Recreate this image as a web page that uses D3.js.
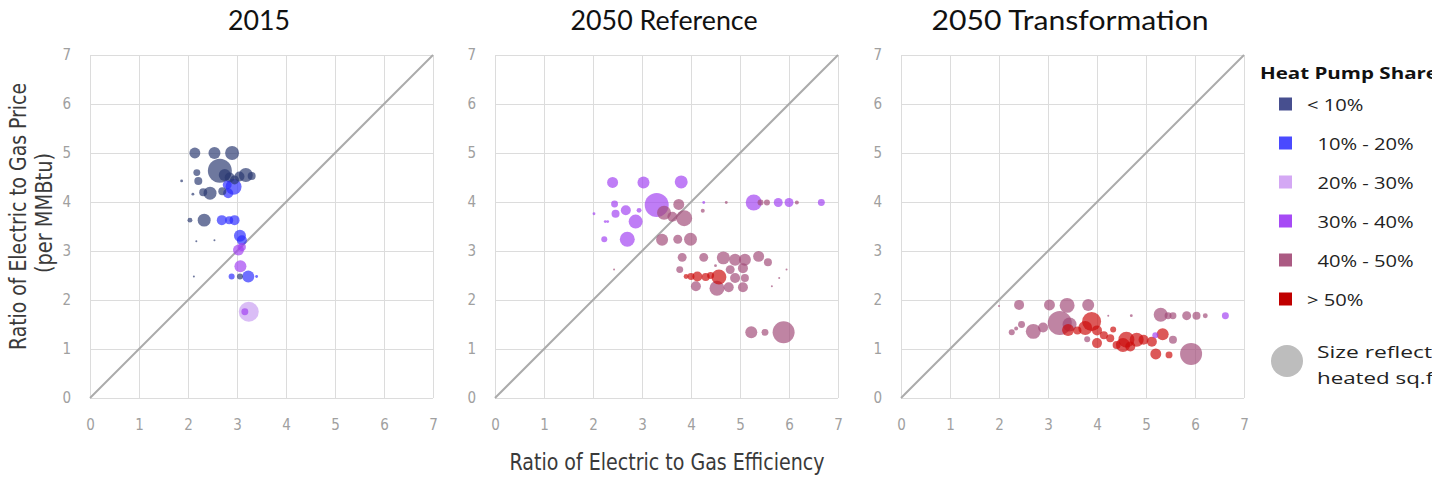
<!DOCTYPE html>
<html><head><meta charset="utf-8">
<script src="https://cdn.jsdelivr.net/npm/d3@7"></script>
<style>body{margin:0;background:#fff}svg{display:block}</style>
</head><body><svg id="c" width="1432" height="480"></svg>
<script>
// ---------- DATA ----------
const panelTitles = ["2015", "2050 Reference", "2050 Transformation"];
const tickValues = [0, 1, 2, 3, 4, 5, 6, 7];
const categoryLabels = ["< 10%", "  10% - 20%", "  20% - 30%", "  30% - 40%", "  40% - 50%", "> 50%"];
const categoryColors = ["#2a3870", "#2b2bff", "#c89ef2", "#a13ff2", "#a04a78", "#cc0a0a"];
const legendColors = ["#474f8f", "#4a4aff", "#d4a8f4", "#a64af5", "#ab5a83", "#c00000"];

// 2015: efficiency ratio (x), price ratio (y), heated sq.ft (relative), heat-pump-share category
const x2015 = [2.14,2.54,2.90,2.65,2.18,2.21,1.87,2.75,2.85,2.95,3.18,3.30,3.05,2.93,2.80,2.45,2.31,2.10,2.82,2.70,2.04,2.33,2.69,2.84,2.95,3.06,3.10,3.03,3.10,3.07,3.23,2.89,3.06,3.40,2.12,2.17,2.54,3.24,3.16];
const y2015 = [5.00,5.00,5.00,4.64,4.60,4.43,4.43,4.55,4.50,4.45,4.55,4.53,4.52,4.31,4.35,4.18,4.20,4.16,4.18,4.22,3.63,3.63,3.63,3.63,3.63,3.31,3.22,3.02,3.08,2.69,2.48,2.48,2.48,2.48,2.48,3.20,3.22,1.76,1.76];
const s2015 = [30,36,49,144,12,16,2,36,25,20,49,16,25,64,20,42,16,2,25,16,6,42,25,16,25,36,25,30,16,36,36,9,9,2,1,1,1,100,12];
const c2015 = [0,0,0,0,0,0,0,0,0,0,0,0,0,1,1,0,0,0,1,0,0,0,1,1,1,1,1,3,3,3,1,1,0,1,0,0,0,2,3];

const xRef = [2.40,3.03,3.80,3.30,2.44,2.46,2.67,2.94,2.87,2.70,2.23,2.02,2.25,2.30,3.75,3.45,3.86,3.62,3.41,3.73,3.99,4.24,4.26,4.72,5.28,5.42,5.55,5.78,6.00,6.16,6.66,3.82,4.26,4.66,4.90,5.10,5.38,5.57,3.77,4.80,5.06,5.10,4.90,4.10,4.53,4.77,5.06,4.00,4.13,4.30,4.57,3.90,4.40,5.23,5.51,5.89,2.43,5.95,5.80,5.65,4.50];
const yRef = [4.40,4.40,4.41,3.94,3.96,3.76,3.83,3.83,3.60,3.24,3.24,3.76,3.60,3.60,3.95,3.78,3.67,3.70,3.23,3.24,3.24,3.82,3.99,3.99,3.99,3.99,3.99,3.99,3.99,3.99,3.99,2.87,2.87,2.86,2.82,2.82,2.89,2.77,2.62,2.62,2.65,2.45,2.45,2.28,2.24,2.26,2.26,2.48,2.48,2.47,2.47,2.48,2.50,1.34,1.34,1.34,2.62,2.62,2.45,2.28,2.70];
const sRef = [30,36,42,144,12,16,25,6,49,56,9,2,2,2,30,49,64,25,36,20,42,4,2,2,64,9,9,20,20,4,12,20,20,42,36,36,30,16,12,20,25,16,25,25,56,25,25,12,25,16,56,6,12,36,12,121,1,1,1,1,2];
const cRef = [3,3,3,3,3,3,3,3,3,3,3,3,3,3,4,4,4,4,4,4,4,4,3,4,3,4,4,3,3,4,3,4,4,4,4,4,4,4,4,4,4,4,4,4,4,4,4,5,5,5,5,5,5,4,4,4,4,4,4,4,4];

const xTr = [2.41,3.03,3.39,3.82,3.24,3.44,2.70,2.90,2.46,2.26,2.35,3.41,3.89,3.76,4.00,4.14,4.00,4.27,4.40,4.60,4.53,4.81,4.95,5.12,5.19,5.20,5.47,5.34,5.55,5.92,5.30,5.45,5.55,5.83,6.03,6.21,6.62,4.70,4.23,2.00,3.80,4.33,4.68,3.60];
const yTr = [1.90,1.90,1.89,1.90,1.53,1.50,1.36,1.44,1.50,1.34,1.42,1.39,1.56,1.43,1.38,1.28,1.12,1.22,1.08,1.19,1.08,1.19,1.19,1.15,1.28,0.90,0.88,1.30,1.19,0.90,1.70,1.68,1.68,1.68,1.68,1.68,1.68,1.68,1.68,1.88,1.20,1.40,1.05,1.38];
const sTr = [25,30,56,36,144,49,56,25,12,9,4,36,90,49,25,16,25,16,16,64,49,49,25,25,9,30,12,36,16,121,49,12,12,20,16,6,12,2,1,1,9,9,25,16];
const cTr = [4,4,4,4,4,4,4,4,4,4,4,5,5,5,5,5,5,5,5,5,5,5,5,5,3,5,5,5,4,4,4,4,4,4,4,4,3,4,4,4,4,5,5,5];

const panelsX = [x2015, xRef, xTr];
const panelsY = [y2015, yRef, yTr];
const panelsS = [s2015, sRef, sTr];
const panelsC = [c2015, cRef, cTr];

// ---------- DRAW ----------
const svg = d3.select("#c");
svg.append("rect").attr("width", 1432).attr("height", 480).attr("fill", "#fff");
const narrow = "'Liberation Sans Narrow','DejaVu Sans Condensed',sans-serif";
const plotLefts = [90, 495, 901];
const titleWidths = [62, 187, 277];
const plotW = 343, plotTop = 55, plotBottom = 398;
const rScale = d3.scaleSqrt().domain([0, 144]).range([0, 12]);

panelTitles.forEach((title, p) => {
  const x = d3.scaleLinear().domain([0, 7]).range([plotLefts[p], plotLefts[p] + plotW]);
  const y = d3.scaleLinear().domain([0, 7]).range([plotBottom, plotTop]);
  const g = svg.append("g");

  g.append("g").attr("transform", `translate(0,${plotBottom})`)
    .call(d3.axisBottom(x).tickValues(tickValues).tickSize(-(plotBottom - plotTop)).tickFormat(""))
    .call(s => s.select(".domain").remove())
    .call(s => s.selectAll("line").attr("stroke", "#dcdcdc"));
  g.append("g").attr("transform", `translate(${plotLefts[p]},0)`)
    .call(d3.axisLeft(y).tickValues(tickValues).tickSize(-plotW).tickFormat(""))
    .call(s => s.select(".domain").remove())
    .call(s => s.selectAll("line").attr("stroke", "#dcdcdc"));

  g.append("g").attr("transform", `translate(0,${plotBottom + 18})`)
    .call(d3.axisBottom(x).tickValues(tickValues).tickSize(0).tickFormat(d3.format("d")))
    .call(s => s.select(".domain").remove())
    .call(s => s.selectAll("text").attr("fill", "#a0a0a0").attr("font-family", narrow).attr("font-size", 15));
  g.append("g").attr("transform", `translate(${plotLefts[p] - 16},0)`)
    .call(d3.axisLeft(y).tickValues(tickValues).tickSize(0).tickFormat(d3.format("d")))
    .call(s => s.select(".domain").remove())
    .call(s => s.selectAll("text").attr("fill", "#a0a0a0").attr("font-family", narrow).attr("font-size", 15));

  g.append("line")
    .attr("x1", x(0)).attr("y1", y(0)).attr("x2", x(7)).attr("y2", y(7))
    .attr("stroke", "#ababab").attr("stroke-width", 2);

  const pts = panelsX[p].map((v, i) => ({ x: v, y: panelsY[p][i], s: panelsS[p][i], c: panelsC[p][i] }))
    .sort((a, b) => b.s - a.s);
  g.append("g").selectAll("circle").data(pts).join("circle")
    .attr("cx", d => x(d.x)).attr("cy", d => y(d.y)).attr("r", d => rScale(d.s))
    .attr("fill", d => categoryColors[d.c]).attr("fill-opacity", 0.68);

  svg.append("text").attr("x", x(3.45)).attr("y", 30).attr("text-anchor", "middle")
    .attr("font-family", "Lato, 'Open Sans', sans-serif").attr("font-size", 27).attr("fill", "#111")
    .attr("textLength", titleWidths[p]).attr("lengthAdjust", "spacingAndGlyphs")
    .text(title);
});

// axis titles
svg.append("text").attr("transform", "translate(25.5,216.5) rotate(-90)").attr("text-anchor", "middle")
  .attr("font-family", narrow).attr("font-size", 23).attr("fill", "#3a3a3a")
  .attr("textLength", 267).attr("lengthAdjust", "spacingAndGlyphs").text("Ratio of Electric to Gas Price");
svg.append("text").attr("transform", "translate(52,213) rotate(-90)").attr("text-anchor", "middle")
  .attr("font-family", narrow).attr("font-size", 23).attr("fill", "#3a3a3a")
  .attr("textLength", 120).attr("lengthAdjust", "spacingAndGlyphs").text("(per MMBtu)");
svg.append("text").attr("x", 667).attr("y", 470).attr("text-anchor", "middle")
  .attr("font-family", narrow).attr("font-size", 23).attr("fill", "#3a3a3a")
  .attr("textLength", 315).attr("lengthAdjust", "spacingAndGlyphs").text("Ratio of Electric to Gas Efficiency");

// legend
const lg = svg.append("g");
lg.append("text").attr("x", 1260).attr("y", 79).attr("font-family", "'Open Sans', Lato, sans-serif")
  .attr("font-weight", "bold").attr("font-size", 16.5).attr("fill", "#111")
  .attr("textLength", 178).attr("lengthAdjust", "spacingAndGlyphs").text("Heat Pump Share");
const rowY = d3.scalePoint().domain(d3.range(categoryLabels.length)).range([104, 299]);
categoryLabels.forEach((lab, i) => {
  lg.append("rect").attr("x", 1279).attr("y", rowY(i) - 6.5).attr("width", 13).attr("height", 13)
    .attr("fill", legendColors[i]);
  const t = lg.append("text").attr("x", 1307).attr("y", rowY(i) + 6.5).attr("font-family", "'Open Sans', Lato, sans-serif")
    .attr("font-size", 16.5).attr("fill", "#222").attr("xml:space", "preserve").style("white-space", "pre").text(lab);
  const w = t.node().getComputedTextLength();
  t.attr("textLength", w * 1.22).attr("lengthAdjust", "spacingAndGlyphs");
});
lg.append("circle").attr("cx", 1287).attr("cy", 361).attr("r", 16).attr("fill", "#bdbdbd");
lg.append("text").attr("x", 1317).attr("y", 358).attr("font-family", "'Open Sans', Lato, sans-serif")
  .attr("font-size", 16.5).attr("fill", "#222")
  .attr("textLength", 126).attr("lengthAdjust", "spacingAndGlyphs").text("Size reflects");
lg.append("text").attr("x", 1317).attr("y", 384).attr("font-family", "'Open Sans', Lato, sans-serif")
  .attr("font-size", 16.5).attr("fill", "#222")
  .attr("textLength", 130).attr("lengthAdjust", "spacingAndGlyphs").text("heated sq.ft.");
</script></body></html>
